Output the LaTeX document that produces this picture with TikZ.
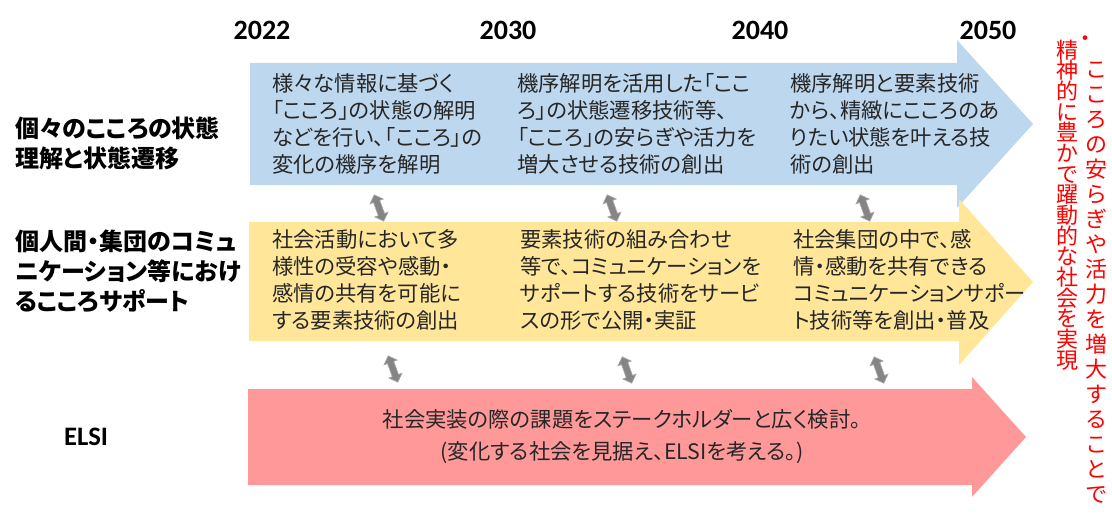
\documentclass[tikz,border=0pt]{standalone}
\usepackage{fontspec}
\setmainfont{Noto Sans CJK JP}[RawFeature=+palt]
\newfontfamily\vjp{Noto Sans CJK JP}
\newfontfamily\latfont{Carlito}
\definecolor{cblue}{HTML}{BDD7EE}
\definecolor{cyel}{HTML}{FFE699}
\definecolor{cred}{HTML}{FF9999}
\definecolor{cgray}{HTML}{858585}
\definecolor{cgrayl}{HTML}{A8A8A8}
\definecolor{ctxt}{HTML}{262626}
\definecolor{vred}{HTML}{FF0000}
\newcommand{\dblarrow}[2]{%
  \begin{scope}[shift={(#1,#2)}, rotate=110]
    \filldraw[fill=cgray, draw=cgrayl, line width=0.5pt]
      (-14,0) -- (-7,7) -- (-7,3.3) -- (7,3.3) -- (7,7) -- (14,0) -- (7,-7) -- (7,-3.3) -- (-7,-3.3) -- (-7,-7) -- cycle;
  \end{scope}}
\begin{document}
\begin{tikzpicture}[x=0.75pt,y=-0.75pt,
  bodytext/.style={font=\fontsize{16}{20.25}\selectfont, align=left, anchor=west, inner sep=0pt, text=ctxt},
  rowlabel/.style={font=\bfseries\fontsize{18}{22.5}\selectfont, align=left, anchor=west, inner sep=0pt, text=black},
  yearlabel/.style={font=\latfont\bfseries\fontsize{21}{24}\selectfont, inner sep=0pt, text=black},
  vcol/.style={font=\vjp\fontsize{16.5}{#1}\selectfont, align=center, inner sep=0pt, text=vred}
]
\path[use as bounding box] (0,0) rectangle (1112,517);

% years
\node[yearlabel] (y1) at (262,30) {2022};
\node[yearlabel] (y2) at (508,30) {2030};
\node[yearlabel] (y3) at (760,30) {2040};
\node[yearlabel] (y4) at (988,30) {2050};

% big arrows
\fill[cblue] (250,63) -- (957,63) -- (957,40) -- (1033,124) -- (957,208) -- (957,185) -- (250,185) -- cycle;
\fill[cyel] (249,222) -- (959,222) -- (959,199) -- (1033,282) -- (959,365) -- (959,341) -- (249,341) -- cycle;
\fill[cred] (248,389) -- (972,389) -- (972,377) -- (1026,437) -- (972,497) -- (972,485) -- (248,485) -- cycle;

% row labels
\node[rowlabel] (l1) at (15,143) {個々のこころの状態\\理解と状態遷移};
\node[rowlabel] (l2) at (15,271) {個人間・集団のコミュ\\ニケーション等におけ\\るこころサポート};
\node[font=\latfont\bfseries\fontsize{20}{23}\selectfont, inner sep=0pt] (l3) at (86,437) {ELSI};

% blue texts
\node[bodytext] (b1) at (272,124) {様々な情報に基づく\\「こころ」の状態の解明\\などを行い、「こころ」の\\変化の機序を解明};
\node[bodytext] (b2) at (517,124) {機序解明を活用した「ここ\\ろ」の状態遷移技術等、\\「こころ」の安らぎや活力を\\増大させる技術の創出};
\node[bodytext] (b3) at (790,124) {機序解明と要素技術\\から、精緻にこころのあ\\りたい状態を叶える技\\術の創出};

% yellow texts
\node[bodytext] (c1) at (272,280) {社会活動において多\\様性の受容や感動・\\感情の共有を可能に\\する要素技術の創出};
\node[bodytext] (c2) at (520,280) {要素技術の組み合わせ\\等で、コミュニケーションを\\サポートする技術をサービ\\スの形で公開・実証};
\node[bodytext] (c3) at (793,280) {社会集団の中で、感\\情・感動を共有できる\\コミュニケーションサポー\\ト技術等を創出・普及};

% red text
\node[font=\fontsize{16}{24}\selectfont, align=center, inner sep=0pt, text=ctxt] (r1) at (622,437) {社会実装の際の課題をステークホルダーと広く検討。\\(変化する社会を見据え、ELSIを考える。)};

% double arrows
\dblarrow{379}{208}
\dblarrow{612}{208}
\dblarrow{865}{208}
\dblarrow{393}{369}
\dblarrow{627}{370}
\dblarrow{879}{370}

% vertical red text
\node[font=\vjp\fontsize{16.5}{18}\selectfont, inner sep=0pt, text=vred] (v0) at (1085,41) {・};
\node[vcol=18.75pt] (v1) at (1096,283) {こ\\こ\\ろ\\の\\安\\ら\\ぎ\\や\\活\\力\\を\\増\\大\\す\\る\\こ\\と\\で};
\node[vcol=15.5pt] (v2) at (1067,205) {精\\神\\的\\に\\豊\\か\\で\\躍\\動\\的\\な\\社\\会\\を\\実\\現};
\end{tikzpicture}
\end{document}
